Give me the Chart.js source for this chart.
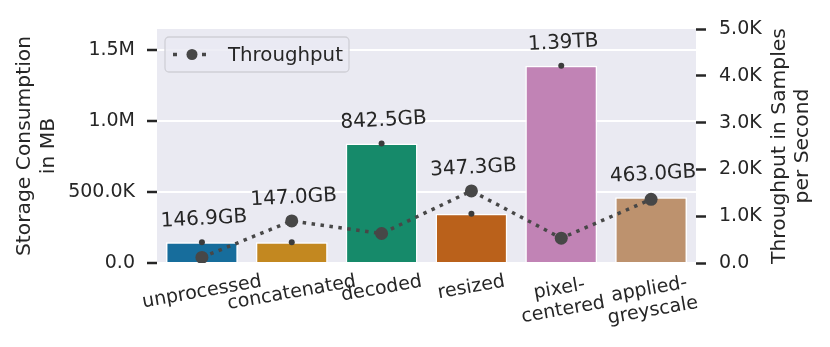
<!DOCTYPE html>
<html>
<head>
<meta charset="utf-8">
<script src="https://cdn.jsdelivr.net/npm/chart.js@4/dist/chart.umd.min.js"></script>
<style>
  html, body { margin: 0; padding: 0; background: #ffffff; }
  #wrap { width: 830px; height: 347px; }
</style>
</head>
<body>
<div id="wrap"><canvas id="myCanvas" width="830" height="347"></canvas></div>
<script>
const categories = ["unprocessed", "concatenated", "decoded", "resized", "pixel-\ncentered", "applied-\ngreyscale"];
const storageMB = [146900, 147000, 842500, 347300, 1390000, 463000];
const storageLabels = ["146.9GB", "147.0GB", "842.5GB", "347.3GB", "1.39TB", "463.0GB"];
const throughput = [120, 900, 630, 1540, 530, 1360];
const barColors = ["#176d9c", "#c38820", "#168a6a", "#ba611b", "#c183b5", "#bd926e"];

const leftTickValues = [0, 500000, 1000000, 1500000];
const leftTickLabels = ["0.0", "500.0K", "1.0M", "1.5M"];
const rightTickValues = [0, 1000, 2000, 3000, 4000, 5000];
const rightTickLabels = ["0.0", "1.0K", "2.0K", "3.0K", "4.0K", "5.0K"];

const leftTitle = ["Storage Consumption", "in MB"];
const rightTitle = ["Throughput in Samples", "per Second"];
const legendLabel = "Throughput";

const textColor = "#262626";
const lineColor = "#474747";
const fontName = "'DejaVu Sans'";

Chart.defaults.font.family = "DejaVu Sans";
Chart.defaults.color = textColor;

// grey plot background
const backgroundPlugin = {
  id: "plotBackground",
  beforeDraw(chart) {
    const { ctx, chartArea } = chart;
    ctx.save();
    ctx.fillStyle = "#eaeaf2";
    ctx.fillRect(chartArea.left, chartArea.top, chartArea.right - chartArea.left, chartArea.bottom - chartArea.top);
    ctx.restore();
  },
};

// value labels above the bars
const barLabelPlugin = {
  id: "barLabels",
  afterDatasetsDraw(chart) {
    const ctx = chart.ctx;
    const x = chart.scales.x;
    const y = chart.scales.y;
    const y2 = chart.scales.y2;
    ctx.save();
    ctx.font = "20px " + fontName;
    ctx.fillStyle = textColor;
    ctx.textAlign = "center";
    ctx.textBaseline = "middle";
    storageLabels.forEach((label, i) => {
      const barTop = y.getPixelForValue(storageMB[i]);
      const pointY = y2.getPixelForValue(throughput[i]);
      const top = Math.min(barTop, pointY);
      ctx.save();
      ctx.translate(x.getPixelForValue(i) + 2, top - 23);
      ctx.rotate((-3 * Math.PI) / 180);
      ctx.fillText(label, 0, 0);
      ctx.restore();
    });
    ctx.restore();
  },
};

// rotated category labels, centred under each bar
const xLabelPlugin = {
  id: "xLabels",
  afterDraw(chart) {
    const ctx = chart.ctx;
    const xScale = chart.scales.x;
    const angle = (10 * Math.PI) / 180;
    const lineH = 21.5;
    ctx.save();
    ctx.font = "19px " + fontName;
    ctx.fillStyle = textColor;
    ctx.textAlign = "center";
    ctx.textBaseline = "middle";
    categories.forEach((label, i) => {
      const lines = label.split("\n");
      const w = Math.max(...lines.map((l) => ctx.measureText(l).width));
      const h = lines.length * lineH;
      const boxH = w * Math.sin(angle) + h * Math.cos(angle);
      const cx = xScale.getPixelForValue(i);
      const cy = chart.chartArea.bottom + 8 + boxH / 2;
      ctx.save();
      ctx.translate(cx, cy);
      ctx.rotate(-angle);
      lines.forEach((line, j) => {
        ctx.fillText(line, 0, (j - (lines.length - 1) / 2) * lineH);
      });
      ctx.restore();
    });
    ctx.restore();
  },
};

// two-line axis titles, both reading bottom to top
const axisTitlePlugin = {
  id: "axisTitles",
  afterDraw(chart) {
    const ctx = chart.ctx;
    const area = chart.chartArea;
    const midY = (area.top + area.bottom) / 2;
    const lineH = 23.5;
    ctx.save();
    ctx.font = "20.3px " + fontName;
    ctx.fillStyle = textColor;
    ctx.textAlign = "center";
    ctx.textBaseline = "middle";
    const drawTitle = (lines, cx) => {
      ctx.save();
      ctx.translate(cx, midY);
      ctx.rotate(-Math.PI / 2);
      lines.forEach((line, j) => {
        ctx.fillText(line, 0, (j - (lines.length - 1) / 2) * lineH);
      });
      ctx.restore();
    };
    drawTitle(leftTitle, 36.5);
    drawTitle(rightTitle, 791);
    ctx.restore();
  },
};

// legend box inside the plot, top left
const legendPlugin = {
  id: "innerLegend",
  afterDraw(chart) {
    const ctx = chart.ctx;
    const area = chart.chartArea;
    const bx = area.left + 8;
    const by = area.top + 8;
    const bw = 184;
    const bh = 35;
    ctx.save();
    ctx.beginPath();
    ctx.roundRect(bx, by, bw, bh, 4);
    ctx.fillStyle = "rgba(234,234,242,0.8)";
    ctx.fill();
    ctx.strokeStyle = "#cfcfd6";
    ctx.lineWidth = 1.3;
    ctx.stroke();

    const my = by + bh / 2;
    ctx.beginPath();
    ctx.setLineDash([4, 25]);
    ctx.moveTo(bx + 8, my);
    ctx.lineTo(bx + 42, my);
    ctx.strokeStyle = lineColor;
    ctx.lineWidth = 3.5;
    ctx.stroke();
    ctx.setLineDash([]);
    ctx.beginPath();
    ctx.arc(bx + 27, my, 5.5, 0, Math.PI * 2);
    ctx.fillStyle = lineColor;
    ctx.fill();

    ctx.font = "19.8px " + fontName;
    ctx.fillStyle = textColor;
    ctx.textAlign = "left";
    ctx.textBaseline = "middle";
    ctx.fillText(legendLabel, bx + 63, my + 1);
    ctx.restore();
  },
};

new Chart(document.getElementById("myCanvas"), {
  data: {
    labels: categories,
    datasets: [
      {
        type: "line",
        label: legendLabel,
        data: throughput,
        yAxisID: "y2",
        borderColor: lineColor,
        borderWidth: 3.5,
        borderDash: [3.5, 5.5],
        pointRadius: 6.5,
        pointBackgroundColor: lineColor,
        pointBorderWidth: 0,
        tension: 0,
        order: 1,
      },
      {
        type: "line",
        label: "storage error",
        data: storageMB,
        yAxisID: "y",
        showLine: false,
        pointRadius: 3,
        pointBackgroundColor: "#3c3c3c",
        pointBorderWidth: 0,
        order: 2,
      },
      {
        type: "bar",
        label: "Storage",
        data: storageMB,
        yAxisID: "y",
        backgroundColor: barColors,
        borderColor: "#ffffff",
        borderWidth: 1.5,
        barPercentage: 0.8,
        categoryPercentage: 1.0,
        order: 3,
      },
    ],
  },
  options: {
    responsive: false,
    animation: false,
    devicePixelRatio: 1,
    layout: { padding: { top: 29, bottom: 0, left: 0, right: 0 } },
    plugins: {
      legend: { display: false },
      tooltip: { enabled: false },
    },
    scales: {
      x: {
        type: "category",
        offset: true,
        grid: { display: false },
        border: { display: false },
        ticks: { display: false },
        afterFit(scale) {
          scale.height = 84;
        },
      },
      y: {
        position: "left",
        min: 0,
        max: 1650000,
        afterBuildTicks(scale) {
          scale.ticks = leftTickValues.map((v) => ({ value: v }));
        },
        ticks: {
          padding: 12,
          font: { size: 19 },
          color: textColor,
          callback: (value, index) => leftTickLabels[index],
        },
        grid: {
          color: "#ffffff",
          lineWidth: 2,
          tickLength: 10,
          tickColor: textColor,
          tickWidth: 2.5,
        },
        border: { display: false },
        afterFit(scale) {
          scale.width = 157;
        },
      },
      y2: {
        position: "right",
        min: 0,
        max: 5000,
        afterBuildTicks(scale) {
          scale.ticks = rightTickValues.map((v) => ({ value: v }));
        },
        ticks: {
          padding: 13,
          font: { size: 19 },
          color: textColor,
          callback: (value, index) => rightTickLabels[index],
        },
        grid: {
          drawOnChartArea: false,
          tickLength: 10,
          tickColor: textColor,
          tickWidth: 2.5,
        },
        border: { display: false },
        afterFit(scale) {
          scale.width = 134;
        },
      },
    },
  },
  plugins: [backgroundPlugin, barLabelPlugin, xLabelPlugin, axisTitlePlugin, legendPlugin],
});
</script>
</body>
</html>
